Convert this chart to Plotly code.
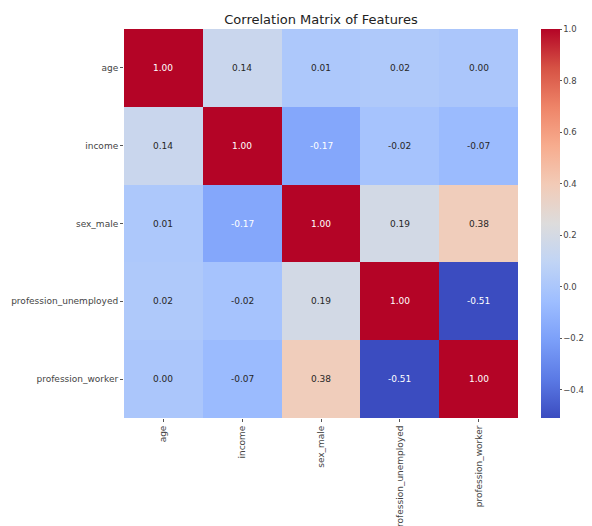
import plotly.graph_objects as go

features = ["age", "income", "sex_male", "profession_unemployed", "profession_worker"]
corr = [
    [1.00, 0.14, 0.01, 0.02, 0.00],
    [0.14, 1.00, -0.17, -0.02, -0.07],
    [0.01, -0.17, 1.00, 0.19, 0.38],
    [0.02, -0.02, 0.19, 1.00, -0.51],
    [0.00, -0.07, 0.38, -0.51, 1.00],
]
title = "Correlation Matrix of Features"

coolwarm = [
    [0.0, "#3b4cc0"], [0.1, "#5b7ae5"], [0.2, "#7b9ff9"], [0.3, "#9ebeff"],
    [0.4, "#c0d4f5"], [0.5, "#dddcdc"], [0.6, "#f2cbb7"], [0.7, "#f7ac8e"],
    [0.8, "#ee8468"], [0.9, "#d65244"], [1.0, "#b40426"],
]
zmin, zmax = -0.51, 1.0

W, H = 584, 518
L, R, T, B = 116, 74, 21, 108

fig = go.Figure(go.Heatmap(
    z=corr, x=features, y=features,
    colorscale=coolwarm, zmin=zmin, zmax=zmax,
    xgap=0, ygap=0,
    colorbar=dict(
        thickness=19, len=1.0, lenmode="fraction", x=1.058, xanchor="left",
        y=0.5, yanchor="middle", outlinewidth=0, xpad=0, ypad=0,
        tickvals=[-0.4, -0.2, 0.0, 0.2, 0.4, 0.6, 0.8, 1.0],
        tickformat=".1f", ticks="outside", ticklen=2, tickcolor="#555",
        tickfont=dict(family="DejaVu Sans", size=8.5, color="#444"),
    ),
    hoverinfo="skip",
))

annotations = []
for i, row_name in enumerate(features):
    for j, col_name in enumerate(features):
        v = corr[i][j]
        frac = (v - zmin) / (zmax - zmin)
        dark = frac > 0.85 or frac < 0.25
        annotations.append(dict(
            x=col_name, y=row_name, xref="x", yref="y",
            text=f"{v:.2f}", showarrow=False,
            font=dict(family="DejaVu Sans", size=9, color="white" if dark else "#262626"),
        ))

fig.update_layout(
    width=W, height=H,
    margin=dict(l=L, r=R, t=T, b=B, autoexpand=False),
    paper_bgcolor="white", plot_bgcolor="white",
    title=dict(text=title, x=(L + (W - R)) / 2 / W, xanchor="center", y=1 - 11 / H, yanchor="middle",
               font=dict(family="DejaVu Sans", size=13, color="#222")),
    annotations=annotations,
    font=dict(family="DejaVu Sans", size=9, color="#444"),
)
fig.update_xaxes(tickangle=-90, ticks="outside", ticklen=3, tickcolor="#555", showgrid=False,
                 zeroline=False, showline=False, tickfont=dict(size=9, color="#444"),
                 automargin=False)
fig.update_yaxes(autorange="reversed", ticks="outside", ticklen=3, tickcolor="#555", showgrid=False,
                 zeroline=False, showline=False, tickfont=dict(size=9, color="#444"),
                 automargin=False)

fig.write_html("out.html")
